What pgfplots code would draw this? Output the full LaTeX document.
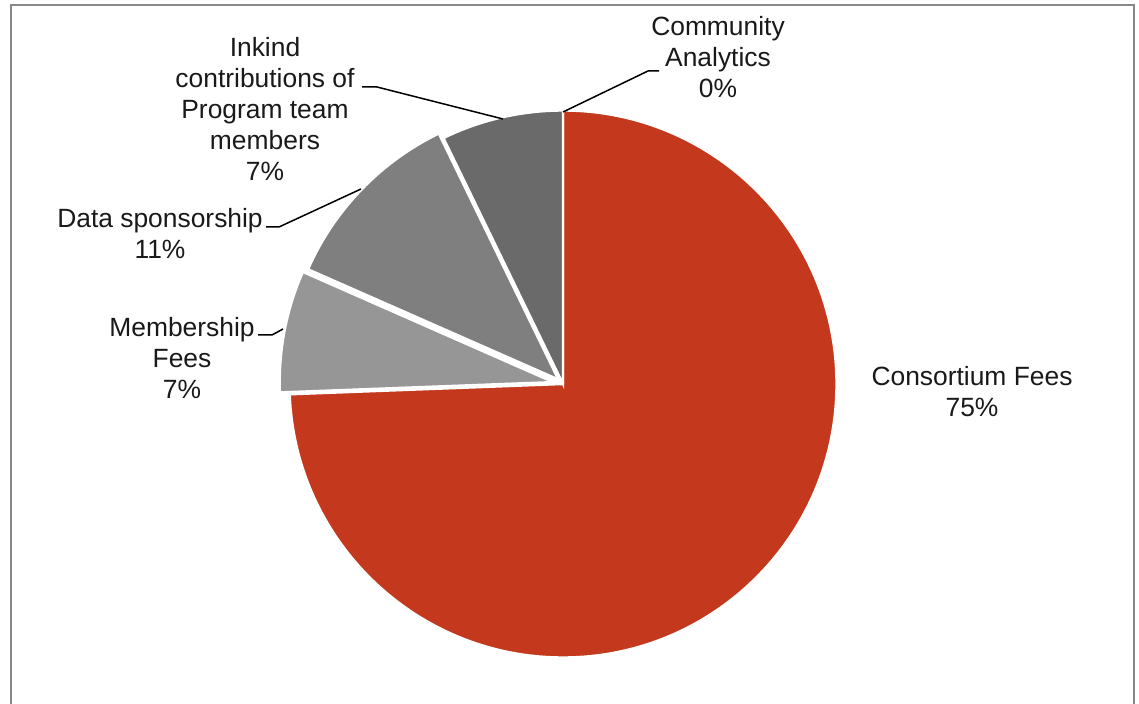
\documentclass[border=0pt]{standalone}
\usepackage{pgfplots}
\usepackage{pgfplotstable}
\pgfplotsset{compat=1.18}
\usepackage{fontspec}
\setmainfont{Liberation Sans}
\definecolor{slice0}{HTML}{C4391D}
\definecolor{slice1}{HTML}{969696}
\definecolor{slice2}{HTML}{7F7F7F}
\definecolor{slice3}{HTML}{6A6A6A}
\definecolor{slice4}{HTML}{D0D0D0}
\definecolor{framegray}{HTML}{888888}
\pgfplotstableread{
label value explode
Consortium 74.4 0
Membership 7.2 10
Data 11.2 6.5
Inkind 7.2 0
Community 0.0 0
}\piedata
\begin{document}
\begin{tikzpicture}
\begin{axis}[width=569.5pt, height=352pt, scale only axis,
  xmin=0, xmax=1139, ymin=0, ymax=704, y dir=reverse,
  hide axis, clip=false]
\coordinate (BL) at (axis cs:0,704);
\coordinate (TR) at (axis cs:1139,0);
\def\startang{90}
\pgfplotsforeachungrouped \i in {0,...,3} {
  \pgfplotstablegetelem{\i}{value}\of\piedata \let\v\pgfplotsretval
  \pgfplotstablegetelem{\i}{explode}\of\piedata \let\ex\pgfplotsretval
  \pgfmathsetmacro\endang{\startang - 3.6*\v}
  \pgfmathsetmacro\midang{(\startang+\endang)/2}
  \pgfmathsetmacro\cx{563 + \ex*cos(\midang)}
  \pgfmathsetmacro\cy{384 - \ex*sin(\midang)}
  \edef\cmd{\noexpand\filldraw[fill=slice\i, draw=white, line width=1.2pt, line join=miter]
    (axis cs:\cx,\cy) -- ++(\startang:136.75pt)
    arc[start angle=\startang, end angle=\endang, radius=136.75pt] -- cycle;}
  \cmd
  \let\startang\endang
}
% leader lines
\draw[black, line width=0.75pt] (axis cs:563,112) -- (axis cs:648,71) -- (axis cs:659,71);
\draw[black, line width=0.75pt] (axis cs:503,119) -- (axis cs:377,87) -- (axis cs:362,87);
\draw[black, line width=0.75pt] (axis cs:361,189) -- (axis cs:279,227) -- (axis cs:266,227);
\draw[black, line width=0.75pt] (axis cs:283,329) -- (axis cs:272,335) -- (axis cs:258,335);
% labels
\tikzset{lbl/.style={align=center, inner sep=0pt, text=black!90, font=\fontsize{13.2}{15.5}\selectfont}}
\node[lbl] at (axis cs:718,57) {Community\\Analytics\\0\%};
\node[lbl] at (axis cs:265,109) {Inkind\\contributions of\\Program team\\members\\7\%};
\node[lbl] at (axis cs:160,234) {Data sponsorship\\11\%};
\node[lbl] at (axis cs:182,358) {Membership\\Fees\\7\%};
\node[lbl] at (axis cs:972,392) {Consortium Fees\\75\%};
% frame
\draw[framegray, line width=1pt] (axis cs:11,704) -- (axis cs:11,5.5) -- (axis cs:1133.5,5.5) -- (axis cs:1133.5,704);
\end{axis}
\pgfresetboundingbox
\path[use as bounding box] (BL) rectangle (TR);
\end{tikzpicture}
\end{document}
